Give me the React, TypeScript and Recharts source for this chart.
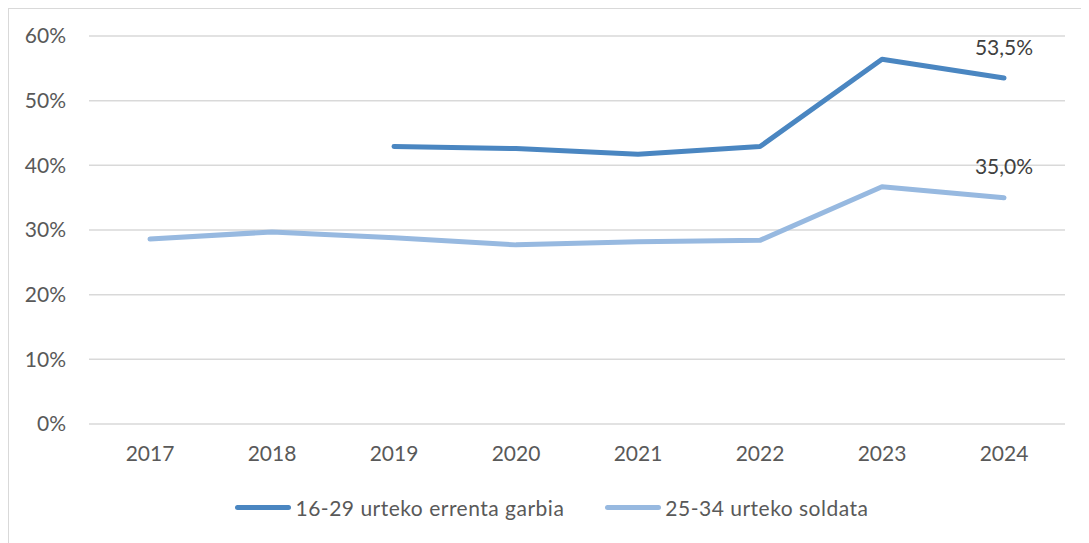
import React from 'react';
import { LineChart, Line, XAxis, YAxis, CartesianGrid, Legend, LabelList } from 'recharts';

const years = ['2017', '2018', '2019', '2020', '2021', '2022', '2023', '2024'];
const errenta: (number | null)[] = [null, null, 42.9, 42.6, 41.7, 42.9, 56.4, 53.5];
const soldata: number[] = [28.6, 29.7, 28.8, 27.7, 28.2, 28.4, 36.7, 35.0];
const yTicks = [0, 10, 20, 30, 40, 50, 60];

const seriesNames = ['16-29 urteko errenta garbia', '25-34 urteko soldata'];
const colors = ['#4a86c1', '#97b9e0'];

const data = years.map((y, i) => ({ year: y, errenta: errenta[i], soldata: soldata[i] }));

const FONT = 'Lato, "DejaVu Sans", sans-serif';
const FS = 21;

const lastLabel = (props: any) => {
  const { x, y, value, index } = props;
  if (index !== years.length - 1 || value == null) return null;
  return (
    <text x={x} y={y - 32} textAnchor="middle" dominantBaseline="central" fill="#404040" fontSize={FS} fontFamily={FONT}>
      {value.toFixed(1).replace('.', ',') + '%'}
    </text>
  );
};

const LegendContent = () => (
  <div style={{ display: 'flex', justifyContent: 'center', paddingLeft: 30, fontFamily: FONT, fontSize: FS, letterSpacing: 0.5, color: '#595959', height: 24, alignItems: 'center' }}>
    {seriesNames.map((n, i) => (
      <div key={n} style={{ display: 'flex', alignItems: 'center', marginLeft: i ? 41 : 0 }}>
        <div style={{ width: 56, height: 5, borderRadius: 3, background: colors[i], marginRight: 4 }} />
        <span>{n}</span>
      </div>
    ))}
  </div>
);

export default function App() {
  return (
    <div style={{ width: 1080, height: 534, borderLeft: '1px solid #d9d9d9', borderTop: '1px solid #d9d9d9', background: '#fff' }}>
      <LineChart width={1080} height={534} data={data} margin={{ top: 27, right: 24, left: 0, bottom: 0 }}>
        <CartesianGrid vertical={false} stroke="#d9d9d9" strokeWidth={1.5} />
        <XAxis
          dataKey="year"
          axisLine={false}
          tickLine={false}
          tickSize={0}
          tickMargin={22}
          height={95}
          padding={{ left: 61, right: 61 }}
          tick={{ fill: '#595959', fontSize: FS, fontFamily: FONT }}
        />
        <YAxis
          domain={[0, 60]}
          ticks={yTicks}
          axisLine={false}
          tickLine={false}
          tickSize={0}
          tickMargin={23}
          width={80}
          tickFormatter={(v: number) => `${v}%`}
          tick={{ fill: '#595959', fontSize: FS, fontFamily: FONT }}
        />
        <Legend verticalAlign="bottom" content={<LegendContent />} wrapperStyle={{ top: 486, bottom: 'auto', height: 24 }} />
        <Line dataKey="errenta" name={seriesNames[0]} stroke={colors[0]} strokeWidth={5} dot={false} strokeLinecap="round" strokeLinejoin="round" isAnimationActive={false}>
          <LabelList dataKey="errenta" content={lastLabel} />
        </Line>
        <Line dataKey="soldata" name={seriesNames[1]} stroke={colors[1]} strokeWidth={5} dot={false} strokeLinecap="round" strokeLinejoin="round" isAnimationActive={false}>
          <LabelList dataKey="soldata" content={lastLabel} />
        </Line>
      </LineChart>
    </div>
  );
}
